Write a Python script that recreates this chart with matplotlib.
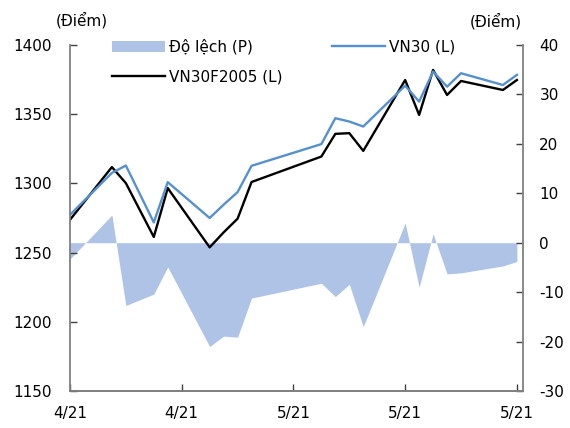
import matplotlib
matplotlib.use("Agg")
import matplotlib.pyplot as plt
import pandas as pd

# trading days (Apr 21 Hung Kings, Apr 30 / May 3 holidays skipped)
dates = pd.to_datetime([
    "2021-04-16", "2021-04-19", "2021-04-20", "2021-04-22", "2021-04-23",
    "2021-04-26", "2021-04-27", "2021-04-28", "2021-04-29",
    "2021-05-04", "2021-05-05", "2021-05-06", "2021-05-07",
    "2021-05-10", "2021-05-11", "2021-05-12", "2021-05-13", "2021-05-14",
    "2021-05-17", "2021-05-18",
])

vn30 = [1277.3, 1307.6, 1312.9, 1271.8, 1300.9,
        1275.0, 1284.6, 1293.7, 1312.7,
        1328.4, 1347.1, 1344.7, 1341.1,
        1370.6, 1359.1, 1380.8, 1369.9, 1379.6,
        1371.1, 1378.4]

vn30f = [1273.7, 1311.8, 1300.2, 1261.3, 1296.6,
         1253.8, 1264.6, 1274.5, 1301.0,
         1319.4, 1335.8, 1336.3, 1323.5,
         1374.7, 1349.5, 1382.0, 1363.9, 1374.0,
         1367.5, 1374.7]

do_lech = [-3.3, 5.6, -12.7, -10.4, -4.9,
           -21.0, -18.9, -19.1, -11.2,
           -8.2, -10.9, -8.4, -17.0,
           4.0, -9.0, 1.8, -6.3, -6.1,
           -4.7, -3.8]

tick_dates = pd.to_datetime(["2021-04-16", "2021-04-24", "2021-05-02",
                             "2021-05-10", "2021-05-18"])
tick_labels = ["4/21", "4/21", "5/21", "5/21", "5/21"]

plt.rcParams['font.family'] = ['DejaVu Sans']
plt.rcParams['font.size'] = 11
plt.rcParams['axes.unicode_minus'] = False

fig = plt.figure(figsize=(5.7, 4.28), dpi=100)
ax = fig.add_axes([70 / 570, 37 / 428, 452.7 / 570, 346 / 428])
ax2 = ax.twinx()

# area on the right axis, lines on top
ax2.fill_between(dates, do_lech, 0, color='#AEC3E6', linewidth=0,
                 label='Độ lệch (P)')
ax.set_zorder(ax2.get_zorder() + 1)
ax.patch.set_visible(False)

l1, = ax.plot(dates, vn30f, color='black', lw=1.7, label='VN30F2005 (L)')
l2, = ax.plot(dates, vn30, color='#5590D0', lw=1.7, label='VN30 (L)')

ax.set_ylim(1150, 1400)
ax.set_yticks([1150, 1200, 1250, 1300, 1350, 1400])
ax2.set_ylim(-30, 40)
ax2.set_yticks(range(-30, 41, 10))

ax.set_xlim(tick_dates[0], tick_dates[-1] + pd.Timedelta(hours=10))
ax.set_xticks(tick_dates)
ax.set_xticklabels(tick_labels)

for a in (ax, ax2):
    for s in a.spines.values():
        s.set_color('#808080')
        s.set_linewidth(1.3)
    a.spines['top'].set_visible(False)
    a.tick_params(direction='in', length=5, color='#404040', width=1)
ax.spines['right'].set_visible(False)
ax2.spines['left'].set_visible(False)
ax.tick_params(axis='y', pad=13)
ax2.tick_params(axis='y', pad=12)
ax.tick_params(axis='x', pad=11)

fig.text(82 / 570, 1 - 20 / 428, '(Điểm)', ha='center', va='center', fontsize=11)
fig.text(496 / 570, 1 - 21 / 428, '(Điểm)', ha='center', va='center', fontsize=11)

patch = ax2.collections[0]
fig.legend([patch, l1, l2], ['Độ lệch (P)', 'VN30F2005 (L)', 'VN30 (L)'],
           ncol=2, frameon=False, loc='upper left',
           bbox_to_anchor=(112 / 570, 1 - 39 / 428),
           borderpad=0, borderaxespad=0, handlelength=3.5,
           handletextpad=0.25, columnspacing=3.2, labelspacing=0.95)

fig.savefig('out.png', dpi=100)
